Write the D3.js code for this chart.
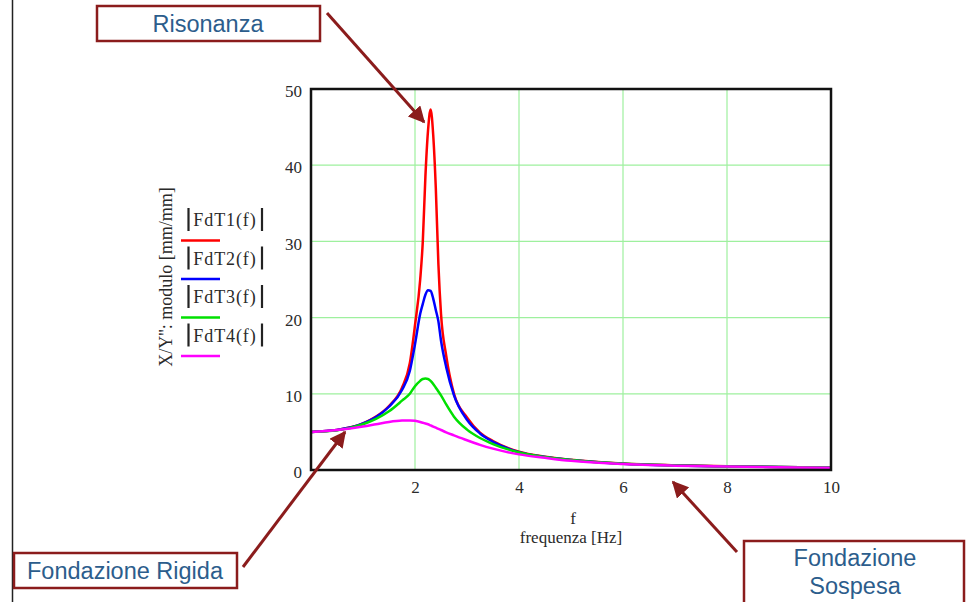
<!DOCTYPE html>
<html>
<head>
<meta charset="utf-8">
<script src="https://cdn.jsdelivr.net/npm/d3@7"></script>
<style>
  html, body { margin: 0; padding: 0; background: #fff; }
  svg { display: block; }
  .tick text { font-family: "Liberation Serif", serif; font-size: 17px; fill: #2a2a2a; }
  .serif { font-family: "Liberation Serif", serif; fill: #2a2a2a; }
  .note { font-family: "Liberation Sans", Arial, sans-serif; font-size: 23.5px; fill: #2c5d8c; }
</style>
</head>
<body>
<svg id="chart" width="966" height="602"></svg>
<script>
// frequency samples [Hz]
const freq = [0, 0.5, 1, 1.25, 1.5, 1.75, 1.9, 2.0, 2.1, 2.15, 2.2, 2.25, 2.3, 2.35, 2.4, 2.45, 2.5, 2.6, 2.75, 3, 3.25, 3.5, 4, 4.5, 5, 6, 7, 8, 9, 10];

// |FdT(f)| values, one per freq sample
const fdt1 = [5.0, 5.25, 6.1, 7.0, 8.4, 10.8, 14.0, 19.0, 25.0, 30.0, 38.5, 44.5, 47.3, 44.0, 37.0, 27.0, 20.5, 15.0, 10.0, 6.9, 4.9, 3.8, 2.4, 1.75, 1.35, 0.85, 0.62, 0.48, 0.4, 0.34];
const fdt2 = [5.0, 5.25, 6.1, 6.95, 8.3, 10.5, 13.0, 16.5, 20.5, 21.8, 23.0, 23.6, 23.5, 22.5, 21.0, 19.5, 17.0, 13.5, 9.8, 6.6, 4.8, 3.7, 2.35, 1.7, 1.32, 0.83, 0.6, 0.47, 0.39, 0.33];
const fdt3 = [5.0, 5.2, 6.0, 6.7, 7.7, 9.1, 10.0, 11.0, 11.7, 11.95, 12.0, 11.95, 11.7, 11.3, 10.8, 10.3, 9.8, 8.6, 7.0, 5.3, 4.2, 3.4, 2.3, 1.7, 1.3, 0.82, 0.6, 0.47, 0.39, 0.33];
const fdt4 = [5.0, 5.25, 5.7, 6.0, 6.3, 6.48, 6.5, 6.45, 6.3, 6.2, 6.1, 6.0, 5.85, 5.7, 5.55, 5.4, 5.25, 4.95, 4.55, 3.9, 3.3, 2.8, 2.05, 1.6, 1.2, 0.78, 0.57, 0.45, 0.37, 0.31];

const seriesNames = ['FdT1(f)', 'FdT2(f)', 'FdT3(f)', 'FdT4(f)'];
const seriesColors = ['#ff0000', '#0000ff', '#00e000', '#ff00ff'];
const xTicks = [2, 4, 6, 8, 10];
const yTicks = [0, 10, 20, 30, 40, 50];

const svg = d3.select('#chart');

const x = d3.scaleLinear().domain([0, 10]).range([311, 831]);
const y = d3.scaleLinear().domain([0, 50]).range([470, 89]);

// slide edge on the left
svg.append('line')
  .attr('x1', 12.5).attr('x2', 12.5).attr('y1', 0).attr('y2', 602)
  .attr('stroke', '#222').attr('stroke-width', 1.5);

// grid
svg.append('g').selectAll('line')
  .data(xTicks.filter(d => d < 10))
  .join('line')
    .attr('x1', d => x(d)).attr('x2', d => x(d))
    .attr('y1', y(50)).attr('y2', y(0))
    .attr('stroke', '#9ef09e').attr('stroke-width', 1.2);

svg.append('g').selectAll('line')
  .data(yTicks.filter(d => d > 0 && d < 50))
  .join('line')
    .attr('x1', x(0)).attr('x2', x(10))
    .attr('y1', d => y(d)).attr('y2', d => y(d))
    .attr('stroke', '#9ef09e').attr('stroke-width', 1.2);

// curves
const all = [fdt1, fdt2, fdt3, fdt4];
const line = d3.line()
  .x((d, i) => x(freq[i]))
  .y(d => y(d))
  .curve(d3.curveMonotoneX);

all.forEach((vals, k) => {
  svg.append('path')
    .datum(vals)
    .attr('fill', 'none')
    .attr('stroke', seriesColors[k])
    .attr('stroke-width', 2.5)
    .attr('d', line);
});

// frame
svg.append('rect')
  .attr('x', x(0)).attr('y', y(50))
  .attr('width', x(10) - x(0)).attr('height', y(0) - y(50))
  .attr('fill', 'none').attr('stroke', '#111').attr('stroke-width', 2.5);

// axes
const yAxis = svg.append('g')
  .attr('transform', `translate(${x(0)},0)`)
  .call(d3.axisLeft(y).tickValues(yTicks).tickSize(0).tickPadding(9));
yAxis.select('.domain').remove();
yAxis.selectAll('.tick text').attr('dy', '0.45em');

const xAxis = svg.append('g')
  .attr('transform', `translate(0,${y(0)})`)
  .call(d3.axisBottom(x).tickValues(xTicks).tickSize(0).tickPadding(11));
xAxis.select('.domain').remove();

// axis titles
svg.append('text').attr('class', 'serif')
  .attr('x', 573).attr('y', 524)
  .attr('text-anchor', 'middle').attr('font-size', 17)
  .text('f');
svg.append('text').attr('class', 'serif')
  .attr('x', 571).attr('y', 543)
  .attr('text-anchor', 'middle').attr('font-size', 17)
  .text('frequenza [Hz]');

svg.append('text').attr('class', 'serif')
  .attr('transform', 'translate(172,277) rotate(-90)')
  .attr('text-anchor', 'middle').attr('font-size', 18)
  .text('X/Y\'\': modulo [mm/mm]');

// legend
const leg = svg.append('g').selectAll('g')
  .data(seriesNames)
  .join('g')
    .attr('transform', (d, i) => `translate(0,${i * 38.5})`);

leg.append('text').attr('class', 'serif')
  .attr('x', 225).attr('y', 226)
  .attr('text-anchor', 'middle').attr('font-size', 18)
  .attr('letter-spacing', 0.9)
  .text(d => d);
leg.append('line')
  .attr('x1', 188.5).attr('x2', 188.5).attr('y1', 208).attr('y2', 231)
  .attr('stroke', '#222').attr('stroke-width', 2.2);
leg.append('line')
  .attr('x1', 262).attr('x2', 262).attr('y1', 208).attr('y2', 231)
  .attr('stroke', '#222').attr('stroke-width', 2.2);
leg.append('line')
  .attr('x1', 181).attr('x2', 220).attr('y1', 240.5).attr('y2', 240.5)
  .attr('stroke', (d, i) => seriesColors[i]).attr('stroke-width', 2.5);

// annotations
const dark = '#8b1c1c';
svg.append('defs').append('marker')
  .attr('id', 'head')
  .attr('viewBox', '0 0 10 10')
  .attr('refX', 9).attr('refY', 5)
  .attr('markerWidth', 5.5).attr('markerHeight', 5.5)
  .attr('markerUnits', 'strokeWidth')
  .attr('orient', 'auto')
  .append('path').attr('d', 'M0,0 L10,5 L0,10 z').attr('fill', dark);

const arrows = [
  [327, 13, 424, 122],
  [243, 567, 345, 432],
  [737, 552, 673, 482]
];
svg.append('g').selectAll('line')
  .data(arrows)
  .join('line')
    .attr('x1', d => d[0]).attr('y1', d => d[1])
    .attr('x2', d => d[2]).attr('y2', d => d[3])
    .attr('stroke', dark).attr('stroke-width', 3)
    .attr('marker-end', 'url(#head)');

const boxes = [
  [97, 6, 223, 35],
  [14, 553, 223, 35],
  [744, 541, 220, 70]
];
svg.append('g').selectAll('rect')
  .data(boxes)
  .join('rect')
    .attr('x', d => d[0]).attr('y', d => d[1])
    .attr('width', d => d[2]).attr('height', d => d[3])
    .attr('fill', '#fff').attr('stroke', dark).attr('stroke-width', 2.5);

svg.append('text').attr('class', 'note')
  .attr('x', 208).attr('y', 32).attr('text-anchor', 'middle')
  .text('Risonanza');
svg.append('text').attr('class', 'note')
  .attr('x', 125).attr('y', 579).attr('text-anchor', 'middle')
  .text('Fondazione Rigida');
svg.append('text').attr('class', 'note')
  .attr('x', 855).attr('y', 566).attr('text-anchor', 'middle')
  .text('Fondazione');
svg.append('text').attr('class', 'note')
  .attr('x', 855).attr('y', 594).attr('text-anchor', 'middle')
  .text('Sospesa');
</script>
</body>
</html>
